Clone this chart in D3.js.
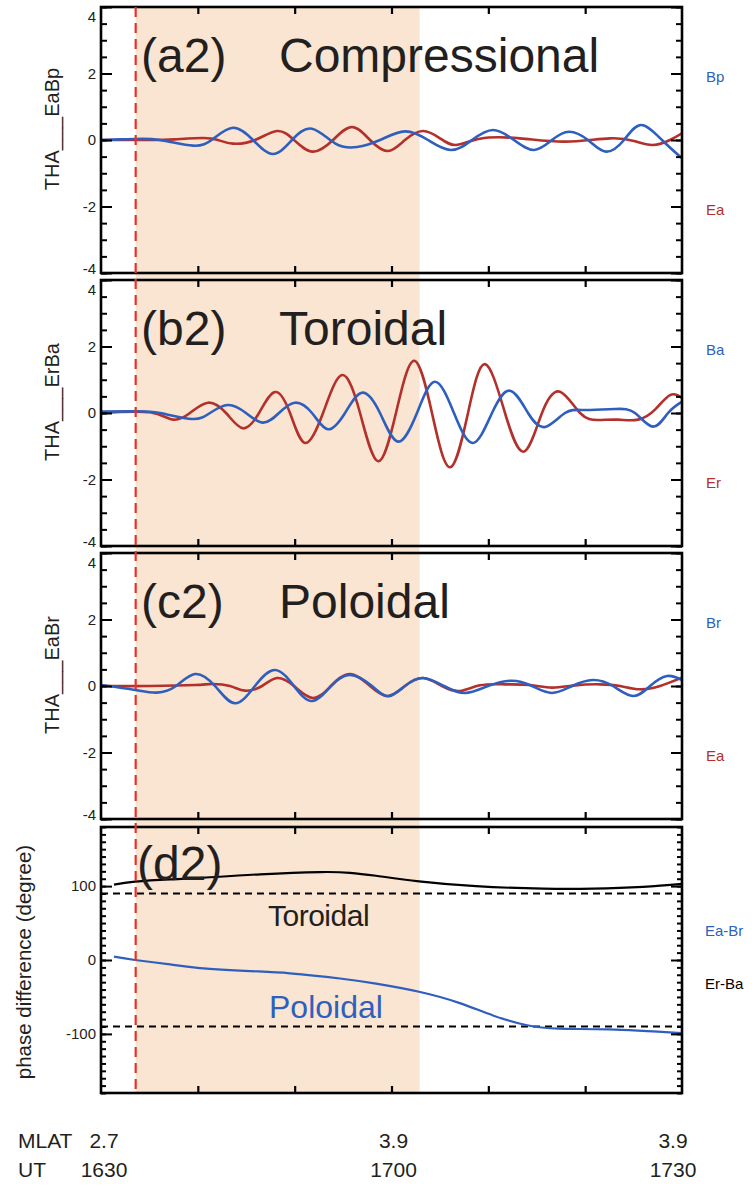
<!DOCTYPE html>
<html><head><meta charset="utf-8">
<script src="https://cdn.jsdelivr.net/npm/d3@7"></script>
<style>body{margin:0;background:#fff}svg{display:block}text{font-family:"Liberation Sans",Arial,Helvetica,sans-serif;fill:#231f20}</style>
</head><body><svg id="c" width="752" height="1187"></svg>
<script>
// ---- data (time in minutes after 16:30 UT) ----
const aBpT=[0,1.96,3.51,6.09,9.50,11.57,13.63,15.70,17.76,19.72,21.79,24.17,26.44,28.81,31.39,33.77,36.14,38.31,40.48,42.65,44.72,46.57,48.33,50.29,52.15,54.01,55.77,57.93,60];
const aBpV=[0.0,0.02,0.03,0.0,-0.17,0.03,0.37,0.0,-0.42,0.0,0.34,-0.1,-0.21,0.0,0.26,0.0,-0.3,0.0,0.3,0.0,-0.3,0.0,0.25,0.0,-0.35,0.0,0.45,0.0,-0.55];
const aEaT=[0,5.06,7.64,10.53,12.08,13.63,15.90,18.18,19.93,21.89,23.96,25.92,27.78,29.64,31.39,33.25,35.01,36.66,39.14,43.27,47.92,52.56,55.15,57.01,58.76,60];
const aEaV=[0.0,0.0,0.02,0.06,0.0,-0.11,0.0,0.27,0.0,-0.35,0.0,0.39,0.0,-0.33,0.0,0.27,0.05,-0.15,0.04,0.05,-0.05,0.05,-0.04,-0.15,0.0,0.2];

const bErT=[0,5.06,7.44,9.19,11.05,12.91,14.66,16.32,17.97,19.52,21.07,22.93,24.89,26.75,28.61,30.46,32.32,34.18,36.04,37.90,39.66,41.72,43.68,45.54,47.40,49.47,51.33,53.39,55.46,57.21,58.76,60];
const bErV=[0.0,0.02,-0.2,0.0,0.31,0.0,-0.46,0.0,0.63,0.0,-0.9,0.0,1.14,0.0,-1.45,0.0,1.57,0.0,-1.63,0.0,1.47,0.0,-1.16,0.0,0.64,0.0,-0.21,-0.2,-0.2,0.1,0.54,0.45];
const bBaT=[0,3.51,6.09,9.40,11.26,13.12,14.97,16.73,18.38,20.03,21.79,23.44,25.20,26.95,28.81,30.67,32.63,34.49,36.45,38.41,40.38,42.24,44.10,45.85,47.92,49.98,53.08,55.15,57.01,58.56,60];
const bBaV=[0.04,0.05,0.0,-0.18,0.0,0.24,0.0,-0.29,0.0,0.31,0.0,-0.49,0.0,0.61,0.0,-0.86,0.0,0.94,0.0,-0.9,0.0,0.67,0.0,-0.42,0.0,0.09,0.12,0.0,-0.41,0.0,0.34];

const cBrT=[0,3.51,5.78,7.75,9.71,11.77,13.84,15.90,17.97,19.93,21.79,23.75,25.71,27.99,29.64,31.39,33.25,35.42,37.59,39.97,42.44,44.51,46.57,48.64,50.81,52.87,54.94,56.70,58.45,60];
const cBrV=[0.03,-0.12,-0.2,0.0,0.36,0.0,-0.52,0.0,0.48,0.0,-0.45,0.0,0.33,0.0,-0.31,0.0,0.24,0.0,-0.21,0.0,0.16,0.0,-0.21,0.0,0.18,0.0,-0.3,0.0,0.3,0.18];
const cEaT=[0,5.06,9.71,11.46,13.32,14.87,16.63,18.18,19.93,21.89,23.75,25.71,27.78,29.64,31.39,33.25,35.22,37.07,39.14,41.72,44.30,46.57,48.95,51.53,53.60,55.66,57.73,60];
const cEaV=[0.0,0.0,0.03,0.06,0.0,-0.14,0.0,0.24,0.0,-0.36,0.0,0.36,0.0,-0.3,0.0,0.24,0.0,-0.15,0.02,0.05,0.03,-0.05,0.02,0.05,0.0,-0.1,0.0,0.25];

const dErBaT=[1.34,3.51,7.13,10.22,16.42,22.62,25.71,28.40,32.84,38.73,45.65,50.81,55.97,60];
const dErBaV=[102,106,109,111,116,119,118,114,106.5,100,96.5,96.5,99,103];
const dEaBrT=[1.34,3.51,7.13,10.22,15.39,19.52,24.68,28.40,32.84,36.97,40.48,43.89,47.30,52.46,60];
const dEaBrV=[4.5,0,-6,-11,-15,-18,-25,-32,-43,-58,-75,-88,-93,-94,-99];

const ampTicks=[-4,-2,0,2,4];
const phaseTicks=[-100,0,100];
const timeTicks=[10,20,30,40,50];
const mlatLabels=["2.7","3.9","3.9"];
const utLabels=["1630","1700","1730"];
const labelTimes=[0,30,60];
const eventTime=3.58, shadeEnd=32.9;

// ---- layout ----
const BLUE="#2f5fbe", RED="#b3302b", SHADE="#f9e5d1", INK="#231f20";
const svg=d3.select("#c");
const L=101,R=682,H=266;
const x=d3.scaleLinear().domain([0,60]).range([L,R]);
const panels=[
 {top:7,dom:[-4,4],ylab:"THA___EaBp",tag:"(a2)",title:"Compressional",
  s:[{t:aEaT,v:aEaV,c:RED},{t:aBpT,v:aBpV,c:BLUE}],rl:[["Bp",BLUE],["Ea",RED]]},
 {top:280,dom:[-4,4],ylab:"THA___ErBa",tag:"(b2)",title:"Toroidal",
  s:[{t:bErT,v:bErV,c:RED},{t:bBaT,v:bBaV,c:BLUE}],rl:[["Ba",BLUE],["Er",RED]]},
 {top:553,dom:[-4,4],ylab:"THA___EaBr",tag:"(c2)",title:"Poloidal",
  s:[{t:cEaT,v:cEaV,c:RED},{t:cBrT,v:cBrV,c:BLUE}],rl:[["Br",BLUE],["Ea",RED]]},
 {top:827,dom:[-180,180],ylab:"phase difference (degree)",tag:"(d2)",
  s:[{t:dErBaT,v:dErBaV,c:"#000",w:2.2},{t:dEaBrT,v:dEaBrV,c:BLUE,w:2.2}]}
];

svg.append("rect").attr("width",752).attr("height",1187).attr("fill","#fff");
svg.append("rect").attr("x",x(eventTime)).attr("y",7).attr("width",x(shadeEnd)-x(eventTime))
  .attr("height",1093-7).attr("fill",SHADE);

const defs=svg.append("defs");
panels.forEach((p,i)=>{
  const y=d3.scaleLinear().domain(p.dom).range([p.top+H,p.top]);
  p.y=y;
  defs.append("clipPath").attr("id","cp"+i).append("rect").attr("x",L).attr("y",p.top).attr("width",R-L).attr("height",H);
  const g=svg.append("g");
  if(i===3){
    [90,-90].forEach(v=>g.append("line").attr("x1",L).attr("x2",R).attr("y1",y(v)).attr("y2",y(v))
      .attr("stroke","#000").attr("stroke-width",2.2).attr("stroke-dasharray","7,5"));
  }
  const line=d3.line().curve(d3.curveNatural);
  p.s.forEach(s=>{
    g.append("path").attr("clip-path","url(#cp"+i+")")
     .attr("d",line(s.t.map((t,k)=>[x(t),y(s.v[k])])))
     .attr("fill","none").attr("stroke",s.c).attr("stroke-width",s.w||2.6).attr("stroke-linejoin","round");
  });
  const isD=i===3;
  const major=isD?phaseTicks:ampTicks;
  const minor=isD?d3.range(-180,181,10):d3.range(-4,4.01,0.5);
  const axL=svg.append("g").attr("transform",`translate(${L},0)`)
    .call(d3.axisLeft(y).tickValues(major).tickSize(-11).tickPadding(5).tickFormat(d=>String(d)));
  axL.select(".domain").remove();
  axL.selectAll("text").attr("font-size",15).attr("fill",INK).style("font-family","Liberation Sans, Arial, sans-serif")
    .attr("dy",d=>d===4?"0.95em":(d===-4?"0.05em":"0.32em"));
  axL.selectAll("line").attr("stroke","#000").attr("stroke-width",2);
  const axLm=svg.append("g").attr("transform",`translate(${L},0)`)
    .call(d3.axisLeft(y).tickValues(minor).tickSize(isD?-5:-6).tickFormat(""));
  axLm.select(".domain").remove(); axLm.selectAll("line").attr("stroke","#000").attr("stroke-width",2);
  const axR=svg.append("g").attr("transform",`translate(${R},0)`)
    .call(d3.axisRight(y).tickValues(major).tickSize(-11).tickFormat(""));
  axR.select(".domain").remove(); axR.selectAll("line").attr("stroke","#000").attr("stroke-width",2);
  const axRm=svg.append("g").attr("transform",`translate(${R},0)`)
    .call(d3.axisRight(y).tickValues(minor).tickSize(isD?-5:-6).tickFormat(""));
  axRm.select(".domain").remove(); axRm.selectAll("line").attr("stroke","#000").attr("stroke-width",2);
  const axT=svg.append("g").attr("transform",`translate(0,${p.top})`)
    .call(d3.axisTop(x).tickValues(timeTicks).tickSize(-7).tickFormat(""));
  axT.select(".domain").remove(); axT.selectAll("line").attr("stroke","#000").attr("stroke-width",2.2);
  const axB=svg.append("g").attr("transform",`translate(0,${p.top+H})`)
    .call(d3.axisBottom(x).tickValues(timeTicks).tickSize(-7).tickFormat(""));
  axB.select(".domain").remove(); axB.selectAll("line").attr("stroke","#000").attr("stroke-width",2.2);
  svg.append("rect").attr("x",L).attr("y",p.top).attr("width",R-L).attr("height",H)
    .attr("fill","none").attr("stroke","#000").attr("stroke-width",2.6);
  if(isD){
    svg.append("text").attr("transform",`translate(31,${p.top+135}) rotate(-90)`).attr("text-anchor","middle")
      .attr("font-size",20.5).text(p.ylab);
  } else {
    svg.append("text").attr("transform",`translate(59,${p.top+122}) rotate(-90)`).attr("text-anchor","middle")
      .attr("font-size",20).text(p.ylab);
  }
  if(isD){
    svg.append("text").attr("x",137).attr("y",p.top+53).attr("font-size",48).text(p.tag);
  } else {
    svg.append("text").attr("x",141).attr("y",p.top+65).attr("font-size",48).text(p.tag);
    svg.append("text").attr("x",279).attr("y",p.top+65).attr("font-size",48).text(p.title);
    svg.append("text").attr("x",706).attr("y",p.top+75).attr("font-size",15).style("fill",p.rl[0][1]).text(p.rl[0][0]);
    svg.append("text").attr("x",706).attr("y",p.top+208).attr("font-size",15).style("fill",p.rl[1][1]).text(p.rl[1][0]);
  }
});

svg.append("text").attr("x",268).attr("y",926).attr("font-size",30).attr("letter-spacing",-0.5).text("Toroidal");
svg.append("text").attr("x",269).attr("y",1018).attr("font-size",32).style("fill",BLUE).text("Poloidal");
svg.append("text").attr("x",705).attr("y",936).attr("font-size",15).style("fill",BLUE).text("Ea-Br");
svg.append("text").attr("x",705).attr("y",989).attr("font-size",15).style("fill","#000").text("Er-Ba");

svg.append("line").attr("x1",x(eventTime)).attr("x2",x(eventTime)).attr("y1",7).attr("y2",1093)
  .attr("stroke","#e5322a").attr("stroke-width",2.2).attr("stroke-dasharray","10,6");

svg.append("text").attr("x",18).attr("y",1148).attr("font-size",21).text("MLAT");
svg.append("text").attr("x",18).attr("y",1177).attr("font-size",21).text("UT");
const offs=[3,2,-9];
svg.selectAll(".ml").data(labelTimes).enter().append("text").attr("x",(d,k)=>x(d)+offs[k]).attr("y",1148)
  .attr("text-anchor","middle").attr("font-size",21).text((d,k)=>mlatLabels[k]);
svg.selectAll(".ut").data(labelTimes).enter().append("text").attr("x",(d,k)=>x(d)+offs[k]).attr("y",1177)
  .attr("text-anchor","middle").attr("font-size",21).text((d,k)=>utLabels[k]);
</script></body></html>
